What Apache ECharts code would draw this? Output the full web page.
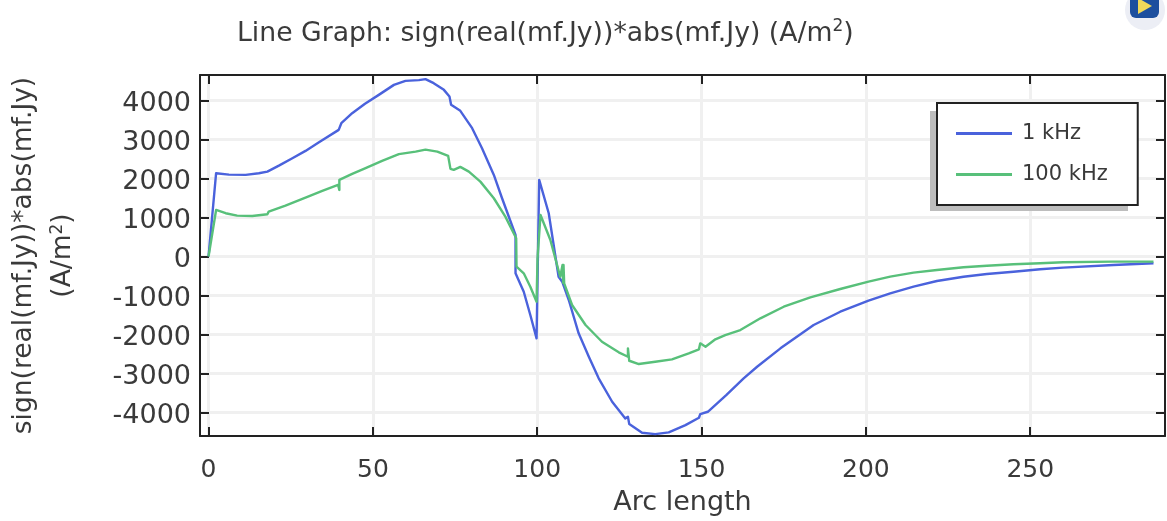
<!DOCTYPE html>
<html><head><meta charset="utf-8">
<style>html,body{margin:0;padding:0;background:#fff}#c{width:1167px;height:521px}</style>
<script src="https://cdn.jsdelivr.net/npm/echarts@6/dist/echarts.min.js"></script>
</head><body><div id="c"></div>
<script>
const seriesNames = ['1 kHz', '100 kHz'];
const xTicks = [0, 50, 100, 150, 200, 250];
const yTicks = [-4000, -3000, -2000, -1000, 0, 1000, 2000, 3000, 4000];
const arc1k = [0,2.3,6.2,11.3,15.3,17.9,21.4,25.5,29.5,33.6,39.6,40.4,43.7,47.6,51.8,56.4,59.9,64,66,68.5,71.6,73.3,73.8,76.6,80.2,83.2,86.8,89.3,93.4,93.4,95.9,97.9,99.8,100.6,103.5,106.5,107.6,109.6,112.6,115.7,118.7,122.8,126.8,127.6,128,131.9,135.9,140,145.1,149.2,149.6,151.9,157.5,162.8,166.9,174,184.1,192.2,200.8,207.4,214.5,221.6,229.7,236.8,244.9,253,260,275.3,287.5];
const val1k = [0,2133,2097,2090,2133,2175,2328,2518,2705,2928,3244,3415,3672,3915,4141,4397,4500,4518,4543,4440,4269,4098,3885,3731,3287,2774,2090,1492,551,-431,-903,-1500,-2097,1962,1108,-518,-646,-1115,-1969,-2569,-3123,-3723,-4149,-4108,-4295,-4518,-4551,-4508,-4320,-4133,-4038,-3979,-3551,-3123,-2826,-2354,-1756,-1415,-1130,-944,-774,-628,-518,-449,-390,-328,-287,-218,-174];
const arc100k = [0,2.3,5.2,8.7,13.3,17.9,18.3,23.4,29.5,34.6,39.4,39.8,39.8,43.7,47.6,52.8,57.9,63,66,69.6,72.9,73.6,74.6,76.6,79.2,82.7,86.8,90.3,93.6,93.7,95.9,97.9,99.8,100.1,101,104,107,107.7,107.9,108,108.2,110.6,114.7,119.7,124.8,127.6,127.6,128,130.9,135.9,141,146.1,149.2,149.6,151.2,154.2,157.2,161.8,167.9,175,183.1,192.2,200.8,207.4,214.5,221.6,229.7,236.8,244.9,253,260,275,287.5];
const val100k = [0,1192,1108,1046,1038,1082,1149,1303,1508,1679,1833,1705,1962,2115,2256,2449,2621,2687,2738,2687,2577,2244,2218,2295,2175,1918,1492,1021,467,-262,-431,-774,-1159,-38,1064,423,-518,-218,-680,-218,-688,-1244,-1756,-2185,-2456,-2569,-2354,-2672,-2756,-2697,-2636,-2482,-2380,-2226,-2313,-2123,-2013,-1885,-1585,-1287,-1046,-833,-646,-518,-415,-346,-277,-236,-200,-174,-149,-133,-133];

const font = 'DejaVu Sans';
const ink = '#3a3a3a';
const zip = (a, b) => a.map((v, i) => [v, b[i]]);
const plain = v => String(v);
const xRange = { min: -2.6, max: 291 };
const yRange = { min: -4600, max: 4650 };
const line = { lineStyle: { color: '#222', width: 2 } };
const tick = vals => ({ show: true, inside: true, length: 9, customValues: vals, lineStyle: { color: '#222', width: 2 } });
const gridLine = { show: true, lineStyle: { color: '#f0f0f0', width: 3 } };
const curve = (color, name, data) => ({
  name, type: 'line', showSymbol: false, symbol: 'none', smooth: false, data,
  itemStyle: { color }, lineStyle: { color, width: 2.4, join: 'round' }
});

const chart = echarts.init(document.getElementById('c'));
chart.setOption({
  animation: false,
  backgroundColor: '#fff',
  title: {
    left: 232, top: 13,
    text: '{a|Line Graph: sign(real(mf.Jy))*abs(mf.Jy) (A/m}{s|2}{a|)}',
    textStyle: { fontWeight: 'normal', rich: {
      a: { fontFamily: font, fontSize: 26.7, fontWeight: 'normal', color: ink, lineHeight: 30, verticalAlign: 'bottom' },
      s: { fontFamily: font, fontSize: 17, fontWeight: 'normal', color: ink, lineHeight: 30, verticalAlign: 'top' }
    } }
  },
  grid: { left: 200, right: 2, top: 75, height: 361, containLabel: false, outerBoundsMode: 'none' },
  legend: {
    show: true, orient: 'vertical', left: 937, top: 103, icon: 'rect',
    padding: [20, 30, 20, 19], itemWidth: 56, itemHeight: 3, itemGap: 20,
    backgroundColor: '#fff', borderColor: '#222', borderWidth: 2, borderRadius: 0,
    textStyle: { fontFamily: font, fontSize: 21, color: ink, padding: [0, 0, 0, 5] },
    data: seriesNames
  },
  xAxis: [
    { type: 'value', ...xRange, position: 'bottom', axisLine: { show: true, onZero: false, ...line },
      axisTick: tick(xTicks),
      axisLabel: { customValues: xTicks, formatter: plain, fontFamily: font, fontSize: 25, color: ink, margin: 22 },
      splitLine: gridLine,
      name: 'Arc length', nameLocation: 'middle', nameGap: 53,
      nameTextStyle: { fontFamily: font, fontSize: 27, color: ink } },
    { type: 'value', ...xRange, position: 'top', axisLine: { show: true, onZero: false, ...line },
      axisTick: tick(xTicks), axisLabel: { show: false }, splitLine: { show: false } }
  ],
  yAxis: [
    { type: 'value', ...yRange, position: 'left', axisLine: { show: true, onZero: false, ...line },
      axisTick: tick(yTicks),
      axisLabel: { customValues: yTicks, formatter: plain, fontFamily: font, fontSize: 27, color: ink, margin: 9, verticalAlign: 'top', lineHeight: 7 },
      splitLine: gridLine,
      name: '{b|sign(real(mf.Jy))*abs(mf.Jy)}\n{a|(A/m}{s|2}{a|)}', nameLocation: 'middle', nameGap: 123, nameRotate: 90,
      nameTextStyle: { rich: {
        b: { fontFamily: font, fontSize: 26.5, color: ink, lineHeight: 50 },
        a: { fontFamily: font, fontSize: 26.5, color: ink, lineHeight: 28, verticalAlign: 'bottom' },
        s: { fontFamily: font, fontSize: 17, color: ink, lineHeight: 28, verticalAlign: 'top' }
      } } },
    { type: 'value', ...yRange, position: 'right', axisLine: { show: true, onZero: false, ...line },
      axisTick: tick(yTicks), axisLabel: { show: false }, splitLine: { show: false } }
  ],
  series: [
    curve('#4a62dc', seriesNames[0], zip(arc1k, val1k)),
    curve('#58c07a', seriesNames[1], zip(arc100k, val100k))
  ],
  graphic: [
    { type: 'rect', z: 3, shape: { x: 930, y: 111, width: 198, height: 100 }, style: { fill: '#bdbdbd' } },
    { type: 'circle', shape: { cx: 1145, cy: 10, r: 20 }, style: { fill: '#eceef5' } },
    { type: 'rect', shape: { x: 1130, y: -6, width: 29, height: 24, r: 6 }, style: { fill: '#1d4f9e' } },
    { type: 'polygon', shape: { points: [[1138, -2], [1152, 6], [1138, 14]] }, style: { fill: '#f0d85a' } }
  ]
});
</script></body></html>
